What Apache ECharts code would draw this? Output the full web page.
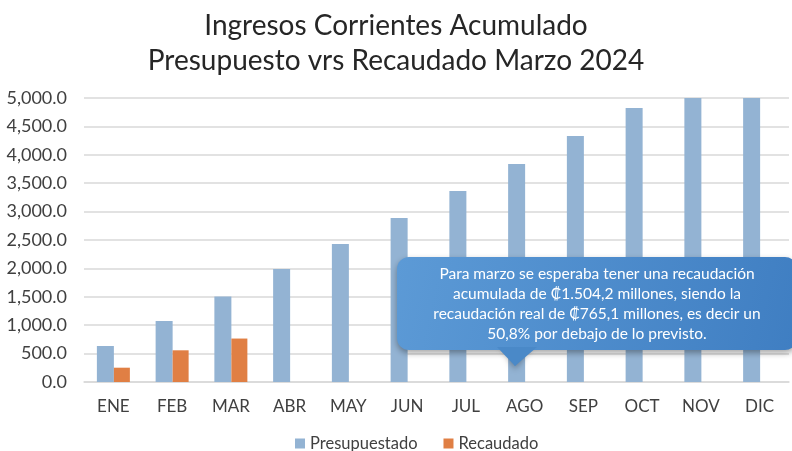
<!DOCTYPE html>
<html>
<head>
<meta charset="utf-8">
<script src="https://cdn.jsdelivr.net/npm/echarts@6/dist/echarts.min.js"></script>
<style>
  html, body { margin: 0; padding: 0; background: #fff; }
  #main { width: 792px; height: 451px; }
</style>
</head>
<body>
<div id="main"></div>
<script>
// datos del grafico
var meses = ['ENE', 'FEB', 'MAR', 'ABR', 'MAY', 'JUN', 'JUL', 'AGO', 'SEP', 'OCT', 'NOV', 'DIC'];
var presupuestado = [634, 1074, 1504.2, 1989, 2430, 2887, 3363, 3838, 4331, 4824, 5290, 5780];
var recaudado = [252, 558, 765.1, null, null, null, null, null, null, null, null, null];
var tituloLineas = ['Ingresos Corrientes Acumulado', 'Presupuesto vrs Recaudado Marzo 2024'];
var nota = [
    'Para marzo se esperaba tener una recaudación',
    'acumulada de ₡1.504,2 millones, siendo la',
    'recaudación real de ₡765,1 millones, es decir un',
    '50,8% por debajo de lo previsto.'
];

var fuente = "Lato, 'Open Sans', sans-serif";
var myChart = echarts.init(document.getElementById('main'));

function formato(v) {
    return v.toLocaleString('en-US', { minimumFractionDigits: 1, maximumFractionDigits: 1 });
}

var option = {
    animation: false,
    textStyle: { fontFamily: fuente },
    title: {
        text: tituloLineas.join('\n'),
        left: 'center',
        top: 3,
        textStyle: {
            fontFamily: fuente,
            fontSize: 28,
            fontWeight: 'normal',
            color: '#262626',
            lineHeight: 35
        }
    },
    legend: {
        bottom: -6,
        left: 290,
        itemWidth: 10,
        itemHeight: 10,
        itemGap: 26,
        icon: 'rect',
        textStyle: { fontFamily: fuente, fontSize: 16.5, color: '#404040' },
        data: ['Presupuestado', 'Recaudado']
    },
    grid: { left: 84, right: 3, top: 98, bottom: 69 },
    xAxis: {
        type: 'category',
        data: meses,
        axisTick: { show: false },
        axisLine: { lineStyle: { color: '#d9d9d9', width: 1.5 } },
        axisLabel: { color: '#404040', fontSize: 17, margin: 16, fontFamily: fuente }
    },
    yAxis: {
        type: 'value',
        min: 0,
        max: 5000,
        interval: 500,
        axisLine: { show: false },
        axisTick: { show: false },
        splitLine: { lineStyle: { color: '#d9d9d9', width: 1.5 } },
        axisLabel: {
            color: '#404040', fontSize: 18, margin: 17, fontFamily: fuente,
            formatter: formato
        }
    },
    series: [
        {
            name: 'Presupuestado',
            type: 'bar',
            data: presupuestado,
            barWidth: 17,
            barGap: '0%',
            clip: true,
            itemStyle: { color: '#93b3d3' }
        },
        {
            name: 'Recaudado',
            type: 'bar',
            data: recaudado,
            barWidth: 16,
            clip: true,
            itemStyle: { color: '#e07f44' }
        }
    ],
    graphic: [
        {
            type: 'group',
            left: 397,
            top: 257,
            z: 100,
            children: [
                {
                    type: 'polygon',
                    z: 100,
                    shape: { points: [[100, 80], [118, 109], [140, 80]] },
                    style: {
                        fill: '#4f8ccb',
                        shadowBlur: 6,
                        shadowOffsetY: 3,
                        shadowColor: 'rgba(0,0,0,0.35)'
                    }
                },
                {
                    type: 'rect',
                    z: 100,
                    shape: { x: 0, y: 0, width: 400, height: 93, r: 12 },
                    style: {
                        fill: new echarts.graphic.LinearGradient(0, 0, 1, 1, [
                            { offset: 0, color: '#5c9ad6' },
                            { offset: 1, color: '#3f7ec2' }
                        ]),
                        shadowBlur: 6,
                        shadowOffsetY: 3,
                        shadowColor: 'rgba(0,0,0,0.35)'
                    }
                },
                {
                    type: 'polygon',
                    z: 101,
                    shape: { points: [[100, 90], [118, 109], [140, 90]] },
                    style: { fill: '#4a89c8' }
                },
                {
                    type: 'text',
                    z: 102,
                    style: {
                        x: 200,
                        y: 7,
                        text: nota.join('\n'),
                        align: 'center',
                        fill: '#ffffff',
                        fontFamily: fuente,
                        fontSize: 15.5,
                        lineHeight: 20
                    }
                }
            ]
        }
    ]
};

myChart.setOption(option);
</script>
</body>
</html>
